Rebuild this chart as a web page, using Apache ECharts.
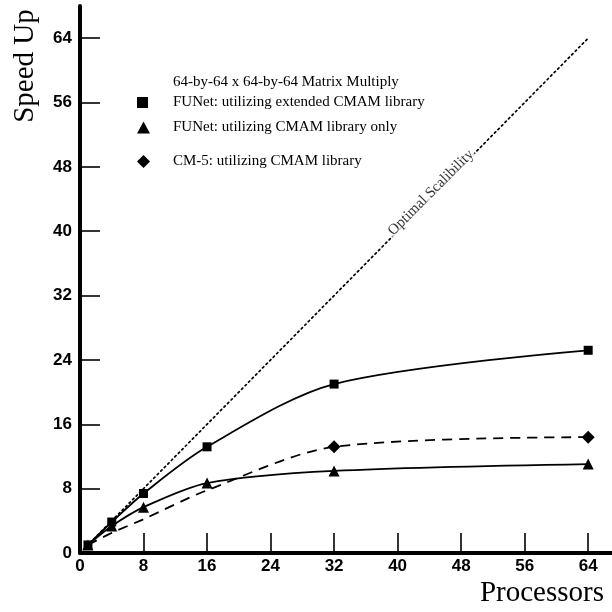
<!DOCTYPE html>
<html>
<head>
<meta charset="utf-8">
<script src="https://cdn.jsdelivr.net/npm/echarts@6/dist/echarts.min.js"></script>
<style>html,body{margin:0;padding:0;background:#fff}#c{width:612px;height:612px}</style>
</head>
<body>
<div id="c"></div>
<script>
const processors = [1, 4, 8, 16, 32, 64];
const funetExtended = [1.0, 3.85, 7.4, 13.2, 21.0, 25.2];
const funetCmamOnly = [1.0, 3.35, 5.7, 8.7, 10.2, 11.05];
const cm5Cmam = [1.0, 2.5, 4.2, 7.8, 13.2, 14.4];
const optimalX = [0, 64];
const tickValues = [0, 8, 16, 24, 32, 40, 48, 56, 64];
const seriesNames = [
  'FUNet: utilizing extended CMAM library',
  'FUNet: utilizing CMAM library only',
  'CM-5: utilizing CMAM library'
];
const legendTitle = '64-by-64 x 64-by-64 Matrix Multiply';
const optimalLabel = 'Optimal Scalibility';

const pair = (xs, ys) => xs.map((x, i) => [x, ys[i]]);
const serif = 'Liberation Serif';
const sans = 'Liberation Sans';

const axisCommon = {
  type: 'value', min: 0, interval: 8,
  axisLine: { show: true, lineStyle: { color: '#000', width: 4 } },
  axisTick: { show: true, inside: true, length: 20, lineStyle: { color: '#000', width: 1.6 }, customValues: tickValues },
  axisLabel: { color: '#000', fontFamily: sans, fontWeight: 'bold', fontSize: 17, customValues: tickValues },
  splitLine: { show: false }
};

const chart = echarts.init(document.getElementById('c'), null, { renderer: 'canvas' });
chart.setOption({
  animation: false,
  backgroundColor: '#fff',
  grid: { left: 80, right: 0, top: 6, bottom: 59, containLabel: false },
  xAxis: Object.assign({}, axisCommon, { max: 67, axisLabel: Object.assign({}, axisCommon.axisLabel, { margin: 5 }) }),
  yAxis: Object.assign({}, axisCommon, { max: 68, axisLabel: Object.assign({}, axisCommon.axisLabel, { margin: 8 }) }),
  title: {
    text: legendTitle, left: 173, top: 75, padding: 0,
    textStyle: { fontFamily: serif, fontWeight: 'normal', fontSize: 15, color: '#000' }
  },
  legend: [0, 1, 2].map((i) => ({
    data: [{ name: seriesNames[i], icon: ['rect', 'triangle', 'diamond'][i] }],
    left: 137, top: [95, 120, 154][i], padding: 0,
    itemWidth: [11, 13, 13][i], itemHeight: [11, 12, 13][i],
    selectedMode: false,
    textStyle: { fontFamily: serif, fontSize: 15, color: '#000', padding: [0, 0, 0, [20, 18, 18][i]] },
    itemStyle: { color: '#000' }
  })),
  graphic: [
    { type: 'text', x: 25, y: 66, rotation: Math.PI / 2,
      style: { text: 'Speed Up', font: '29px "Liberation Serif"', fill: '#000', align: 'center', verticalAlign: 'middle' } },
    { type: 'text', x: 604, y: 593,
      style: { text: 'Processors', font: '29px "Liberation Serif"', fill: '#000', align: 'right', verticalAlign: 'middle' } }
  ],
  series: [
    {
      name: 'optimal', type: 'line', data: pair(optimalX, optimalX), symbol: 'none', silent: true,
      lineStyle: { color: '#000', width: 1.7, type: [1.7, 3.3], cap: 'round' }, z: 1
    },
    {
      name: 'optimalLabel', type: 'scatter', data: [[44.2, 44.8]], symbolSize: 0, silent: true, z: 3,
      label: { show: true, formatter: optimalLabel, rotate: 45, position: 'inside',
        fontFamily: serif, fontSize: 15, color: '#000', backgroundColor: '#fff', padding: [0, 1] }
    },
    {
      name: seriesNames[0], type: 'line', data: pair(processors, funetExtended), smooth: 0.3,
      symbol: 'rect', symbolSize: 9, itemStyle: { color: '#000' },
      lineStyle: { color: '#000', width: 1.8 }, z: 5
    },
    {
      name: seriesNames[1], type: 'line', data: pair(processors, funetCmamOnly), smooth: 0.3,
      symbol: 'triangle', symbolSize: 11, itemStyle: { color: '#000' },
      lineStyle: { color: '#000', width: 1.8 }, z: 5
    },
    {
      name: seriesNames[2], type: 'line', data: pair(processors, cm5Cmam), smooth: 0.3,
      symbol: 'diamond', symbolSize: (v, p) => (p.dataIndex >= 4 ? 13 : 0), showAllSymbol: true,
      itemStyle: { color: '#000' },
      lineStyle: { color: '#000', width: 1.8, type: [10, 7] }, z: 4
    }
  ]
});
</script>
</body>
</html>
